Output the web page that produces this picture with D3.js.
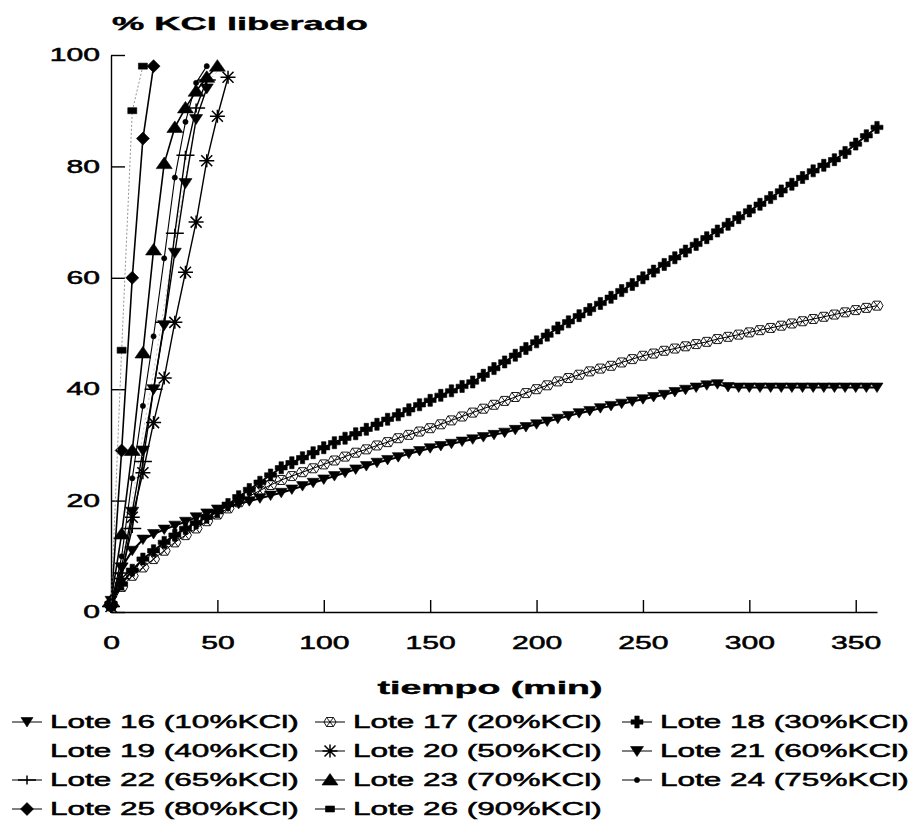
<!DOCTYPE html>
<html>
<head>
<meta charset="utf-8">
<script src="https://cdn.jsdelivr.net/npm/d3@7/dist/d3.min.js"></script>
<style>
	body { margin: 0; background: #fff; }
	svg { display: block; }
	text { font-family: "Liberation Sans", Arial, sans-serif; fill: #000; }
</style>
</head>
<body>
<div id="chart-div"></div>
<script>
//Data

	//Slow batches, read every 5 min from 0 to 360
	var slowTime = d3.range(0, 361, 5);

	var lote16 = [2, 8, 11, 13, 14, 14.8, 15.5, 16.2, 17, 17.7, 18.4, 18.9, 19.4, 19.9, 20.4, 20.9, 21.4, 22, 22.6, 23.2,
		23.8, 24.4, 25, 25.6, 26.2, 26.8, 27.3, 27.8, 28.4, 28.9, 29.4, 29.8, 30.2, 30.6, 31, 31.4, 31.8, 32.2, 32.7, 33.2,
		33.7, 34.2, 34.7, 35.2, 35.7, 36.1, 36.6, 37, 37.4, 37.8, 38.2, 38.6, 39, 39.5, 39.9, 40.3, 40.7, 40.9, 40.4, 40.3,
		40.3, 40.3, 40.3, 40.3, 40.3, 40.3, 40.3, 40.3, 40.3, 40.3, 40.3, 40.3, 40.3];

	var lote17 = [1, 4.5, 6.5, 8, 9.5, 11, 12.5, 13.8, 15, 16.3, 17.5, 18.6, 19.7, 20.8, 21.8, 22.8, 23.7, 24.4, 25.1, 25.8,
		26.5, 27.2, 27.9, 28.6, 29.2, 29.9, 30.5, 31.2, 31.8, 32.4, 33, 33.7, 34.4, 35.1, 35.8, 36.5, 37.2, 37.9, 38.6, 39.3,
		40, 40.7, 41.4, 42, 42.6, 43.2, 43.7, 44.2, 44.8, 45.4, 46, 46.4, 46.9, 47.3, 47.7, 48.1, 48.5, 49, 49.4, 49.8,
		50.2, 50.6, 51, 51.4, 51.8, 52.2, 52.6, 53, 53.4, 53.8, 54.2, 54.6, 55];

	var lote18 = [1.5, 5, 7.5, 9.5, 11, 12.5, 13.8, 15, 16, 17, 18, 19.3, 20.7, 22, 23.3, 24.6, 25.9, 26.8, 27.7, 28.6,
		29.5, 30.4, 31.2, 32, 32.8, 33.7, 34.6, 35.4, 36.3, 37.2, 38, 38.9, 39.7, 40.5, 41.3, 42.5, 43.7, 44.9, 46.1, 47.3,
		48.5, 49.7, 51, 52.1, 53.2, 54.3, 55.4, 56.5, 57.7, 58.8, 60, 61.2, 62.4, 63.6, 64.8, 66, 67.2, 68.4, 69.6, 70.8,
		72, 73.2, 74.4, 75.6, 76.8, 78, 79.2, 80.2, 81.2, 82.5, 84, 85.5, 87];

	//Fast batches, read every 5 min from 0
	var fastTime = [0, 5, 10, 15, 20, 25, 30, 35, 40, 45, 50, 55];

	var lote19 = [1, 9, 20, 32, 43, 55, 67, 78, 88, 95, 97];
	var lote20 = [1, 6, 17, 25, 34, 42, 52, 61, 70, 81, 89, 96];
	var lote21 = [1, 8, 18, 29, 40, 51.5, 64.5, 77, 88.5, 94];
	var lote22 = [1, 7, 15, 27, 40, 52, 68, 82, 90.5, 95.5];
	var lote23 = [2, 14, 29, 46.5, 65, 80.5, 87, 90.5, 93.5, 96, 98];
	var lote24 = [1, 10, 24, 37, 49.5, 63.5, 78, 88, 95, 98];
	var lote25 = [1, 29, 60, 85, 98];
	var lote26 = [1, 47, 90, 98];

	//Legend labels, row by row
	var loteNames = ["Lote 16 (10%KCl)", "Lote 17 (20%KCl)", "Lote 18 (30%KCl)",
		"Lote 19 (40%KCl)", "Lote 20 (50%KCl)", "Lote 21 (60%KCl)",
		"Lote 22 (65%KCl)", "Lote 23 (70%KCl)", "Lote 24 (75%KCl)",
		"Lote 25 (80%KCl)", "Lote 26 (90%KCl)"];

	var xTicks = [0, 50, 100, 150, 200, 250, 300, 350];
	var yTicks = [0, 20, 40, 60, 80, 100];

//General use variables

	var w = 916, h = 837;
	var SX = 1.8; //scanned lettering is stretched sideways
	var SXaxis = 1.72;

	//Series table built from the arrays above
	var series = [
		{name: loteNames[0], t: slowTime, v: lote16, mark: "triDownS", line: 2},
		{name: loteNames[1], t: slowTime, v: lote17, mark: "hexOpen", line: 1},
		{name: loteNames[2], t: slowTime, v: lote18, mark: "plusFill", line: 2},
		{name: loteNames[3], t: fastTime, v: lote19, mark: "none", line: 0.6, dash: "2,3", color: "#999"},
		{name: loteNames[4], t: fastTime, v: lote20, mark: "star", line: 1.4},
		{name: loteNames[5], t: fastTime, v: lote21, mark: "triDown", line: 1.4},
		{name: loteNames[6], t: fastTime, v: lote22, mark: "plusThin", line: 1.4},
		{name: loteNames[7], t: fastTime, v: lote23, mark: "triUp", line: 1.6},
		{name: loteNames[8], t: fastTime, v: lote24, mark: "dot", line: 1.1},
		{name: loteNames[9], t: fastTime, v: lote25, mark: "diamond", line: 1.6},
		{name: loteNames[10], t: fastTime, v: lote26, mark: "square", line: 0.8, dash: "2,2", color: "#777"}
	];

	//Marker shapes, drawn round 0,0
	var markPath = {
		triDownS: "M-6,-4.5L6,-4.5L0,5Z",
		hexOpen: "M-6,0L-3.5,-4.5L3.5,-4.5L6,0L3.5,4.5L-3.5,4.5ZM-3.5,-4.5L3.5,4.5M3.5,-4.5L-3.5,4.5",
		plusFill: "M-2.2,-6H2.2V-2.2H6V2.2H2.2V6H-2.2V2.2H-6V-2.2H-2.2Z",
		star: "M-7.5,0H7.5M-5.5,-5.5L5.5,5.5M-5.5,5.5L5.5,-5.5M0,-6.5V6.5",
		triDown: "M-6.5,-4.5L6.5,-4.5L0,5.5Z",
		plusThin: "M-9,0H9M0,-4.5V4.5",
		triUp: "M0,-6.5L8,5L-8,5Z",
		dot: "M-2.6,0A2.6,2.6 0 1,0 2.6,0A2.6,2.6 0 1,0 -2.6,0Z",
		diamond: "M0,-6.5L6.5,0L0,6.5L-6.5,0Z",
		square: "M-4.5,-3H4.5V3H-4.5Z",
		none: ""
	};
	var strokeMarks = {star: 1.5, plusThin: 1.5, hexOpen: 0.9};

	//Scales
	var xScale = d3.scaleLinear().domain([0, 360]).range([111, 877]);
	var yScale = d3.scaleLinear().domain([0, 100]).range([612, 55]);

	function stretch(sel, k) {
		sel.each(function() {
			var tl = this.getComputedTextLength();
			d3.select(this).attr("textLength", tl * k).attr("lengthAdjust", "spacingAndGlyphs");
		});
	}

	function drawMark(g, key) {
		var sw = strokeMarks[key];
		g.append("path")
			.attr("d", markPath[key])
			.attr("fill", sw ? "none" : "#000")
			.attr("stroke", "#000")
			.attr("stroke-width", sw || 0.6);
	}

//Set up the canvas
	var svg = d3.select("#chart-div")
		.append("svg")
		.attr("width", w)
		.attr("height", h);

//Axes

	var xAxis = d3.axisBottom(xScale).tickValues(xTicks).tickSizeInner(-12).tickSizeOuter(0).tickPadding(25);
	var yAxis = d3.axisLeft(yScale).tickValues(yTicks).tickSizeInner(-14).tickSizeOuter(0).tickPadding(11);

	var gx = svg.append("g")
		.attr("class", "axis x-axis")
		.attr("transform", "translate(0,612)")
		.call(xAxis);

	var gy = svg.append("g")
		.attr("class", "axis y-axis")
		.attr("transform", "translate(111,0)")
		.call(yAxis);

	svg.selectAll(".axis").attr("font-family", null).attr("font-size", null);
	svg.selectAll(".axis path, .axis line").attr("stroke", "#000").attr("stroke-width", 1.4);
	svg.selectAll(".axis text").attr("font-size", 17.5).attr("fill", "#000")
		.attr("stroke", "#000").attr("stroke-width", 0.5)
		.call(stretch, SXaxis);
	gx.selectAll(".tick").filter(function(d) { return d === 0; }).select("line").remove();

//Lines and markers

	var line = d3.line()
		.x(function(d) { return xScale(d[0]); })
		.y(function(d) { return yScale(d[1]); });

	series.forEach(function(s) {
		var pts = s.v.map(function(v, i) { return [s.t[i], v]; });
		svg.append("path")
			.datum(pts)
			.attr("d", line)
			.attr("fill", "none")
			.attr("stroke", s.color || "#000")
			.attr("stroke-width", s.line)
			.attr("stroke-dasharray", s.dash || null);

		if (s.mark !== "none") {
			svg.append("g").selectAll("g")
				.data(pts)
				.enter()
				.append("g")
					.attr("transform", function(d) { return "translate(" + xScale(d[0]) + "," + yScale(d[1]) + ")"; })
					.each(function() { drawMark(d3.select(this), s.mark); });
		}
	});

//Titles

	svg.append("text")
		.attr("x", 112).attr("y", 30)
		.attr("font-size", 19).attr("font-weight", "bold")
		.attr("stroke", "#000").attr("stroke-width", 0.4)
		.attr("textLength", 256).attr("lengthAdjust", "spacingAndGlyphs")
		.text("% KCl liberado");

	svg.append("text")
		.attr("x", 490).attr("y", 694)
		.attr("text-anchor", "middle")
		.attr("font-size", 19).attr("font-weight", "bold")
		.attr("stroke", "#000").attr("stroke-width", 0.4)
		.attr("textLength", 225).attr("lengthAdjust", "spacingAndGlyphs")
		.text("tiempo (min)");

//Legend

	var colX = [12, 315, 622];
	var rowY = [728, 757, 786, 815];

	var legend = svg.append("g").attr("class", "legend")
		.selectAll("g")
		.data(series)
		.enter()
		.append("g")
			.attr("transform", function(d, i) { return "translate(" + colX[i % 3] + "," + rowY[Math.floor(i / 3)] + ")"; });

	legend.each(function(d) {
		var g = d3.select(this);
		if (d.mark !== "none") {
			g.append("line")
				.attr("x1", 0).attr("x2", 30).attr("y1", -6).attr("y2", -6)
				.attr("stroke", "#000").attr("stroke-width", 1);
			drawMark(g.append("g").attr("transform", "translate(15,-6)"), d.mark);
		}
		g.append("text")
			.attr("x", 38).attr("y", 0)
			.attr("font-size", 17.5)
			.attr("stroke", "#000").attr("stroke-width", 0.5)
			.text(d.name)
			.call(stretch, SX);
	});
</script>
</body>
</html>
